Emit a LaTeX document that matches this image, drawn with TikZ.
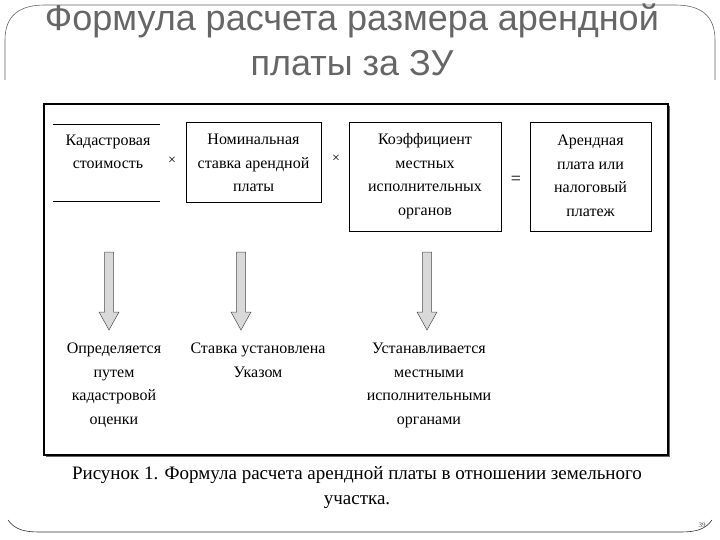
\documentclass[tikz,border=0pt]{standalone}
\usepackage{fontspec}
\setmainfont{Liberation Serif}
\newfontfamily\titlefont{Liberation Sans}
\begin{document}
\begin{tikzpicture}[x=1pt,y=-1pt,
  txt/.style={font=\fontsize{16}{23.5}\selectfont,align=center,inner sep=0pt},
  bx/.style={draw,line width=0.6pt},
  garrow/.style={draw=black!70,fill=black!15,line width=0.5pt}]
\useasboundingbox (0,0) rectangle (720,540);
% slide frame
\draw[black!60,line width=0.6pt] (5,80) -- (5,40) .. controls (5,15) and (20,5) .. (45,5) -- (675,5) .. controls (700,5) and (715,15) .. (715,40) -- (715,80);
\draw[black!80,line width=0.6pt] (8,520) .. controls (15,530) and (25,532) .. (40,532) -- (680,532) .. controls (695,532) and (705,530) .. (712,520);
\node[font=\titlefont\fontsize{36}{45}\selectfont,text=black!60,align=center] (title) at (352,40) {Формула расчета размера арендной\\платы за ЗУ};
% diagram frame
\fill[black!60] (46,106) rectangle (670,457);
\draw[fill=white,line width=1.2pt] (44,104) rectangle (668,455);
% top row
\draw[line width=0.6pt] (53,124) coordinate (k1) -- (160,124);
\draw[line width=0.6pt] (53,201) coordinate (k2) -- (160,201);
\node[txt] (kad) at (108,152) {Кадастровая\\стоимость};
\node[bx,minimum width=135pt,minimum height=80pt] (nom) at (253.5,162) {};
\node[txt] at (253.5,163) {Номинальная\\ставка арендной\\платы};
\node[bx,minimum width=152pt,minimum height=109pt] (koef) at (425,176.5) {};
\node[txt] at (425,176) {Коэффициент\\местных\\исполнительных\\органов};
\node[bx,minimum width=121pt,minimum height=109pt] (aren) at (590.5,176.5) {};
\node[txt] at (590.5,176) {Арендная\\плата или\\налоговый\\платеж};
\node[font=\fontsize{14}{14}\selectfont] (m1) at (172,161) {×};
\node[font=\fontsize{14}{14}\selectfont] (m2) at (336,159) {×};
\node[font=\fontsize{18}{18}\selectfont] (eq) at (516,180) {=};
% arrows
\foreach \x/\n in {109/a1,241/a2,427/a3}{
  \draw[garrow] (\x-4.5,252) -- (\x+4.5,252) -- (\x+4.5,312) -- (\x+10,312) -- (\x,330) -- (\x-10,312) -- (\x-4.5,312) -- cycle;
  \coordinate (\n) at (\x,330);
}
\node[txt,anchor=north] (t1) at (114,343) {Определяется\\путем\\кадастровой\\оценки};
\node[txt,anchor=north] (t2) at (258,343) {Ставка установлена\\Указом};
\node[txt,anchor=north] (t3) at (429,343) {Устанавливается\\местными\\исполнительными\\органами};
% caption
\node[font=\fontsize{19}{25}\selectfont,align=center] (cap) at (357,488) {Рисунок 1. Формула расчета арендной платы в отношении земельного\\участка.};
\node[font=\fontsize{7}{7}\selectfont,text=black!70] (pn) at (702,525) {39};
\end{tikzpicture}
\end{document}
